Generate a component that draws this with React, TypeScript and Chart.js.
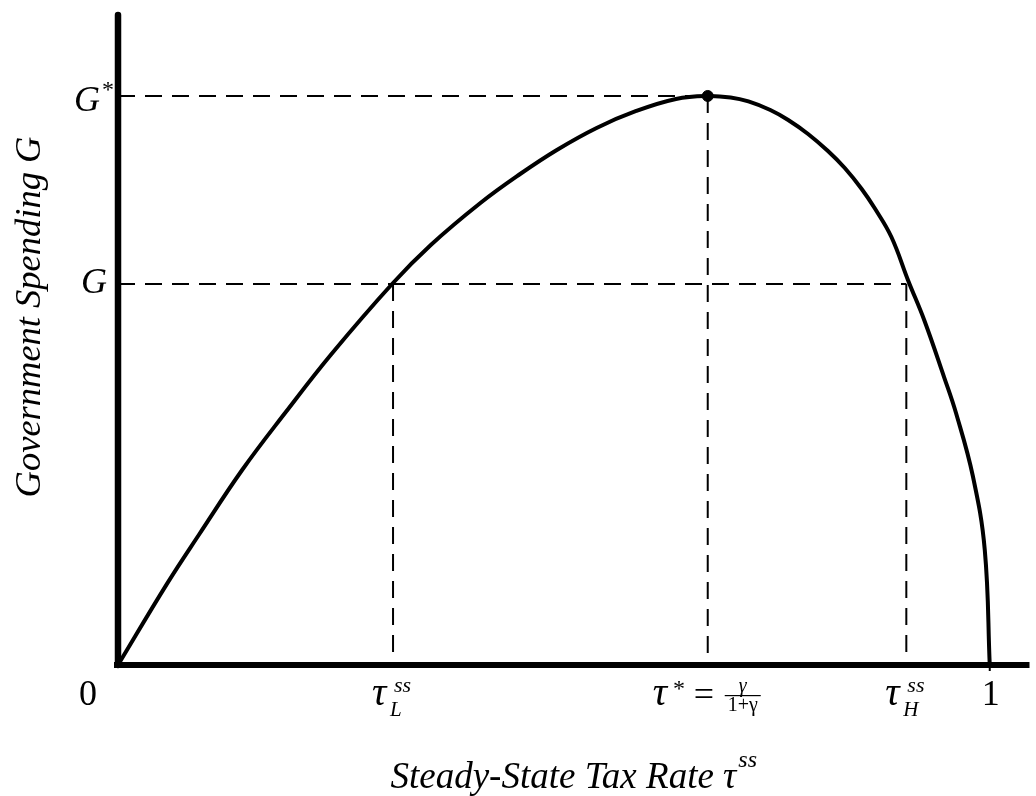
import React, { useEffect, useRef } from "react";
import { Chart, registerables } from "chart.js";

Chart.register(...registerables);

// Laffer-type curve: steady-state tax rate (x) vs government spending (y)
const curveTau = [0, 0.0558, 0.0934, 0.1424, 0.1925, 0.2449, 0.3144, 0.3588, 0.4157, 0.4613, 0.5034, 0.549, 0.5945, 0.6401, 0.6765, 0.7027, 0.7232, 0.7483, 0.7688, 0.7916, 0.8144, 0.8337, 0.8531, 0.8679, 0.8872, 0.9066, 0.9248, 0.9476, 0.9613, 0.9806, 0.9943, 1.0];
const curveG = [0, 0.1235, 0.2006, 0.2986, 0.3874, 0.4763, 0.5835, 0.6432, 0.7075, 0.7519, 0.7887, 0.8224, 0.8484, 0.8668, 0.8714, 0.8691, 0.863, 0.8499, 0.8346, 0.8132, 0.7871, 0.7611, 0.729, 0.6998, 0.6554, 0.5881, 0.5283, 0.441, 0.3859, 0.2894, 0.1761, 0];

const tauLow = 0.3155;
const tauStar = 0.6765;
const tauHigh = 0.9043;
const gLevel = 0.5835;
const gStar = 0.8714;

const xMin = 0;
const xMax = 1.0456;
const yMin = 0;
const yMax = 1;

const xEndLabels = ["0", "1"];
const xEndValues = [0, 1];
const xTitle = "Steady-State Tax Rate τ";
const xTitleSup = "ss";
const yTitle = "Government Spending G";

const SERIF = '"Liberation Serif", "Times New Roman", serif';

const annotPlugin = {
  id: "annot",
  beforeDatasetsDraw(chart: any) {
    const { ctx, chartArea, scales } = chart;
    const x = scales.x;
    const y = scales.y;
    const x0 = x.getPixelForValue(0);
    const y0 = y.getPixelForValue(0);
    ctx.save();
    ctx.strokeStyle = "#000";
    ctx.lineWidth = 6.5;
    ctx.lineCap = "round";
    ctx.beginPath();
    ctx.moveTo(x0, chartArea.top + 3);
    ctx.lineTo(x0, y0);
    ctx.stroke();
    ctx.lineCap = "butt";
    ctx.lineWidth = 6;
    ctx.beginPath();
    ctx.moveTo(x0 - 4, y0);
    ctx.lineTo(chartArea.right, y0);
    ctx.stroke();
    // small tick below the axis at tau = 1
    ctx.lineWidth = 2;
    const x1 = x.getPixelForValue(1);
    ctx.beginPath();
    ctx.moveTo(x1, y0);
    ctx.lineTo(x1, y0 + 6);
    ctx.stroke();
    ctx.restore();
  },
  afterDatasetsDraw(chart: any) {
    const { ctx, chartArea, scales } = chart;
    const x = scales.x;
    const y = scales.y;
    const x0 = x.getPixelForValue(0);
    const y0 = y.getPixelForValue(0);
    ctx.save();
    ctx.fillStyle = "#000";
    ctx.textBaseline = "alphabetic";

    const txt = (s: string, px: number, py: number, font: string, align: CanvasTextAlign = "left") => {
      ctx.font = font;
      ctx.textAlign = align;
      ctx.fillText(s, px, py);
      ctx.textAlign = "left";
      return ctx.measureText(s).width;
    };

    const base = y0 + 40;

    // 0 and 1
    txt(xEndLabels[0], x.getPixelForValue(xEndValues[0]) - 30, base, `36px ${SERIF}`, "center");
    txt(xEndLabels[1], x.getPixelForValue(xEndValues[1]) + 1, base, `36px ${SERIF}`, "center");

    // tau_L^ss and tau_H^ss
    const tauLabel = (val: number, sub: string) => {
      const px = x.getPixelForValue(val);
      txt("τ", px - 21, base, `italic 40px ${SERIF}`);
      txt("ss", px + 1, y0 + 27, `italic 22px ${SERIF}`);
      txt(sub, px - 3, y0 + 51, `italic 21px ${SERIF}`);
    };
    tauLabel(tauLow, "L");
    tauLabel(tauHigh, "H");

    // tau* = gamma / (1+gamma)
    {
      const px = x.getPixelForValue(tauStar);
      const w = txt("τ", px - 55, base, `italic 40px ${SERIF}`);
      txt("*", px - 55 + w + 6, y0 + 31, `24px ${SERIF}`);
      txt("=", px - 14, base + 1, `36px ${SERIF}`);
      const fc = px + 35;
      txt("γ", fc, y0 + 27, `italic 20px ${SERIF}`, "center");
      ctx.fillRect(fc - 18, y0 + 30, 36, 1.2);
      txt("1+γ", fc, y0 + 46, `20px ${SERIF}`, "center");
    }

    // G* and G
    {
      const pyS = y.getPixelForValue(gStar);
      txt("G", x0 - 18, pyS + 15, `italic 36px ${SERIF}`, "right");
      txt("*", x0 - 16, pyS + 1, `24px ${SERIF}`);
      const pyG = y.getPixelForValue(gLevel);
      txt("G", x0 - 11, pyG + 9, `italic 36px ${SERIF}`, "right");
    }

    // x title
    {
      ctx.font = `italic 37px ${SERIF}`;
      const w1 = ctx.measureText(xTitle).width;
      ctx.font = `italic 24px ${SERIF}`;
      const w2 = ctx.measureText(xTitleSup).width;
      const total = w1 + 2 + w2;
      const cx = (chartArea.left + chartArea.right) / 2;
      const left = cx - total / 2;
      txt(xTitle, left, y0 + 123, `italic 37px ${SERIF}`);
      txt(xTitleSup, left + w1 + 2, y0 + 102, `italic 24px ${SERIF}`);
    }

    // y title
    {
      ctx.save();
      ctx.translate(40, 317);
      ctx.rotate(-Math.PI / 2);
      txt(yTitle, 0, 0, `italic 36.5px ${SERIF}`, "center");
      ctx.restore();
    }

    ctx.restore();
  },
};

export default function App() {
  const ref = useRef<HTMLCanvasElement | null>(null);

  useEffect(() => {
    if (!ref.current) return;
    const curve = curveTau.map((t, i) => ({ x: t, y: curveG[i] }));
    const dash = [17, 10];
    const dashed = (pts: { x: number; y: number }[]) => ({
      data: pts,
      showLine: true,
      borderColor: "#000",
      borderWidth: 2,
      borderDash: dash,
      pointRadius: 0,
      fill: false,
      clip: false as any,
    });
    const chart = new Chart(ref.current, {
      type: "scatter",
      data: {
        datasets: [
          dashed([{ x: 0, y: gStar }, { x: tauStar, y: gStar }]),
          dashed([{ x: 0, y: gLevel }, { x: tauHigh, y: gLevel }]),
          dashed([{ x: tauLow, y: gLevel }, { x: tauLow, y: 0 }]),
          dashed([{ x: tauStar, y: gStar }, { x: tauStar, y: 0 }]),
          dashed([{ x: tauHigh, y: gLevel }, { x: tauHigh, y: 0 }]),
          {
            data: curve,
            showLine: true,
            borderColor: "#000",
            borderWidth: 4,
            pointRadius: 0,
            tension: 0.4,
            borderCapStyle: "round",
            borderJoinStyle: "round",
            fill: false,
            clip: false as any,
          } as any,
          {
            data: [{ x: tauStar, y: gStar }],
            backgroundColor: "#000",
            borderColor: "#000",
            pointRadius: 5.5,
            showLine: false,
          },
        ],
      },
      options: {
        animation: false,
        responsive: false,
        devicePixelRatio: 1,
        layout: { padding: { left: 118, right: 0, top: 12, bottom: 131 } },
        plugins: { legend: { display: false }, tooltip: { enabled: false } },
        events: [],
        scales: {
          x: { type: "linear", min: xMin, max: xMax, display: false },
          y: { type: "linear", min: yMin, max: yMax, display: false },
        },
      },
      plugins: [annotPlugin],
    });
    return () => chart.destroy();
  }, []);

  return (
    <div style={{ position: "absolute", left: 0, top: 0, width: 1036, height: 796, background: "#fff" }}>
      <canvas ref={ref} width={1036} height={796} style={{ display: "block" }} />
    </div>
  );
}
